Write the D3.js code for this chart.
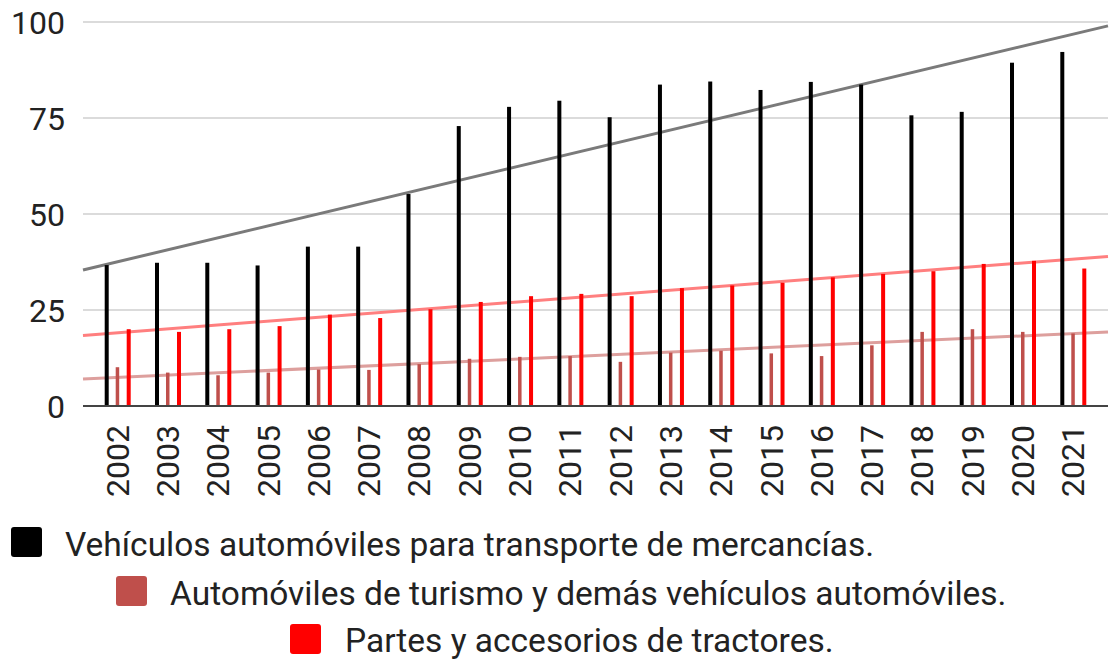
<!DOCTYPE html>
<html>
<head>
<meta charset="utf-8">
<script src="https://cdn.jsdelivr.net/npm/d3@7"></script>
<style>
  html, body { margin: 0; padding: 0; background: #fff; }
  svg { display: block; font-family: Roboto, "Liberation Sans", Arial, sans-serif; }
</style>
</head>
<body>
<svg id="chart" width="1110" height="661"></svg>
<script>
// Years on the category axis
const years = ["2002","2003","2004","2005","2006","2007","2008","2009","2010","2011",
               "2012","2013","2014","2015","2016","2017","2018","2019","2020","2021"];

// Series values, one per year
const mercancias = [36.7, 37.3, 37.3, 36.6, 41.5, 41.5, 55.2, 72.9, 77.9, 79.5,
                    75.2, 83.7, 84.5, 82.3, 84.4, 83.7, 75.7, 76.6, 89.4, 92.2];
const turismo    = [10.1, 8.7, 8.0, 8.7, 9.5, 9.4, 10.9, 12.3, 12.8, 13.0,
                    11.5, 13.9, 14.4, 13.7, 13.0, 15.8, 19.3, 20.0, 19.3, 18.9];
const tractores  = [20.0, 19.3, 20.0, 20.8, 23.8, 22.9, 25.2, 27.1, 28.6, 29.2,
                    28.6, 30.7, 31.4, 32.1, 33.5, 34.4, 35.1, 37.0, 37.8, 35.8];

// Y-axis ticks
const yTicks = [0, 25, 50, 75, 100];

// Series names as shown in the legend
const seriesNames = [
  "Vehículos automóviles para transporte de mercancías.",
  "Automóviles de turismo y demás vehículos automóviles.",
  "Partes y accesorios de tractores."
];
const seriesColors = ["#000000", "#bf4f4b", "#ff0000"];
const trendColors  = ["#7a7a7a", "#dd9f9d", "#ff7f7f"];

const series = [
  { key: "s0", name: seriesNames[0], values: mercancias, color: seriesColors[0], trend: trendColors[0] },
  { key: "s1", name: seriesNames[1], values: turismo,    color: seriesColors[1], trend: trendColors[1] },
  { key: "s2", name: seriesNames[2], values: tractores,  color: seriesColors[2], trend: trendColors[2] }
];

const svg = d3.select("#chart");
const plot = { left: 83, right: 1108, top: 22, bottom: 406 };

const x0 = d3.scaleBand()
  .domain(years)
  .range([plot.left, plot.right])
  .paddingInner(0)
  .paddingOuter(0.19);

const x1 = d3.scalePoint()
  .domain(series.map(s => s.key))
  .range([-11, 11]);

const y = d3.scaleLinear().domain([0, 100]).range([plot.bottom, plot.top]);

const center = yr => x0(yr) + x0.bandwidth() / 2;

// Gridlines
svg.append("g")
  .selectAll("line")
  .data(yTicks.filter(t => t > 0))
  .join("line")
  .attr("x1", plot.left).attr("x2", plot.right)
  .attr("y1", d => y(d)).attr("y2", d => y(d))
  .attr("stroke", "#cfcfcf")
  .attr("stroke-width", 1.5);

// Y axis labels
const yAxis = d3.axisLeft(y).tickValues(yTicks).tickSize(0).tickPadding(18);
const gy = svg.append("g").attr("transform", `translate(${plot.left},0)`).call(yAxis);
gy.select(".domain").remove();
gy.selectAll("text")
  .attr("font-family", "Roboto, 'Liberation Sans', Arial, sans-serif")
  .attr("font-size", 32)
  .attr("fill", "#222")
  .attr("dy", "0.35em");

// Linear trendlines (least squares over year index), spanning the plot width
const idx = d3.scaleLinear().domain([0, years.length - 1])
  .range([center(years[0]), center(years[years.length - 1])]);
function fit(vals) {
  const mx = d3.mean(vals, (v, i) => i);
  const my = d3.mean(vals);
  let sxy = 0, sxx = 0;
  vals.forEach((v, i) => { sxy += (i - mx) * (v - my); sxx += (i - mx) * (i - mx); });
  const b = sxy / sxx;
  return i => my + b * (i - mx);
}
const iL = idx.invert(plot.left), iR = idx.invert(plot.right);
svg.append("g")
  .selectAll("line")
  .data(series)
  .join("line")
  .each(function(s) {
    const f = fit(s.values);
    d3.select(this)
      .attr("x1", idx(iL)).attr("y1", y(f(iL)))
      .attr("x2", idx(iR)).attr("y2", y(f(iR)));
  })
  .attr("stroke", s => s.trend)
  .attr("stroke-width", 3);

// Bars
const barW = 4;
svg.append("g")
  .selectAll("g")
  .data(years)
  .join("g")
  .attr("transform", d => `translate(${center(d)},0)`)
  .selectAll("rect")
  .data((yr, i) => series.map(s => ({ key: s.key, value: s.values[i], color: s.color })))
  .join("rect")
  .attr("x", d => x1(d.key) - barW / 2)
  .attr("width", d => d.key === "s1" ? barW - 0.5 : barW)
  .attr("y", d => y(d.value))
  .attr("height", d => y(0) - y(d.value))
  .attr("fill", d => d.color);

// Baseline
svg.append("line")
  .attr("x1", plot.left).attr("x2", plot.right)
  .attr("y1", y(0)).attr("y2", y(0))
  .attr("stroke", "#444")
  .attr("stroke-width", 2);

// X axis labels, rotated
const xAxis = d3.axisBottom(x0).tickSize(0);
const gx = svg.append("g").attr("transform", `translate(0,${plot.bottom})`).call(xAxis);
gx.select(".domain").remove();
gx.selectAll("text")
  .attr("font-family", "Roboto, 'Liberation Sans', Arial, sans-serif")
  .attr("font-size", 32)
  .attr("fill", "#222")
  .attr("x", null).attr("y", 0).attr("dy", null)
  .attr("text-anchor", "end")
  .attr("dominant-baseline", "central")
  .attr("transform", "translate(0,19) rotate(-90)");

// Legend, three staggered rows
const legendRows = [
  { sx: 11, sy: 527, tx: 65, ty: 556 },
  { sx: 116, sy: 576, tx: 170, ty: 605 },
  { sx: 290, sy: 624, tx: 345, ty: 652 }
];
const lg = svg.append("g")
  .selectAll("g")
  .data(series)
  .join("g");
lg.append("rect")
  .attr("x", (s, i) => legendRows[i].sx)
  .attr("y", (s, i) => legendRows[i].sy)
  .attr("width", 31).attr("height", 30)
  .attr("rx", 3)
  .attr("fill", s => s.color);
lg.append("text")
  .attr("x", (s, i) => legendRows[i].tx)
  .attr("y", (s, i) => legendRows[i].ty)
  .attr("font-size", 33.5)
  .attr("fill", "#222")
  .text(s => s.name);
</script>
</body>
</html>
